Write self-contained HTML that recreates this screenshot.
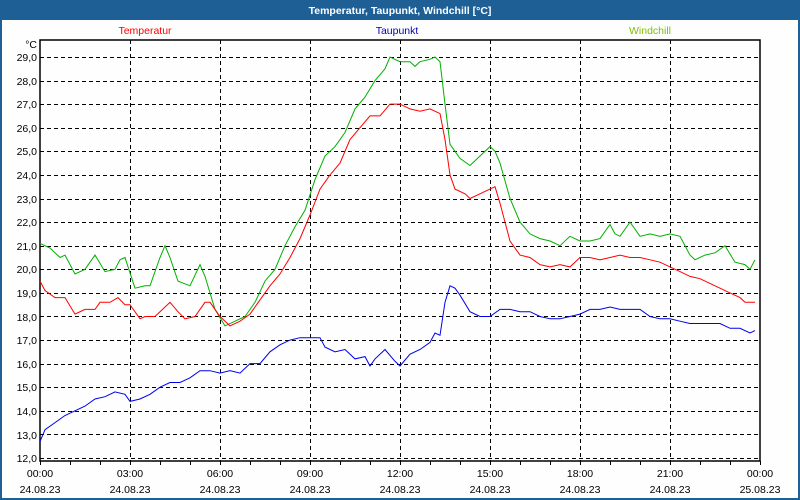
<!DOCTYPE html>
<html><head><meta charset="utf-8"><style>
body{margin:0;width:800px;height:500px;overflow:hidden;background:#fff;font-family:"Liberation Sans",sans-serif}
</style></head><body>
<svg width="800" height="500" xmlns="http://www.w3.org/2000/svg" font-family="Liberation Sans, sans-serif" font-size="10.5" style="display:block">
<rect x="0" y="0" width="800" height="500" fill="#1e5f96"/>
<rect x="2" y="20" width="796" height="478" fill="#fdfefd"/>
<text x="400" y="14" fill="#fff" font-weight="bold" text-anchor="middle">Temperatur, Taupunkt, Windchill [°C]</text>
<text x="145" y="34" fill="#f00" text-anchor="middle">Temperatur</text>
<text x="397" y="34" fill="#0000c0" text-anchor="middle">Taupunkt</text>
<text x="650" y="34" fill="#80c000" text-anchor="middle">Windchill</text>
<g id="grid"></g>
<rect x="40" y="40" width="720" height="421" fill="none" stroke="#000" stroke-width="1.5"/>
<polyline id="g" fill="none" stroke="#00b000" stroke-width="1"/>
<polyline id="r" fill="none" stroke="#f00" stroke-width="1"/>
<polyline id="b" fill="none" stroke="#0000f0" stroke-width="1"/>
<text x="37" y="48" text-anchor="end">°C</text>
<g text-anchor="end">
<text x="37" y="61">29,0</text><text x="37" y="85">28,0</text><text x="37" y="108">27,0</text><text x="37" y="132">26,0</text><text x="37" y="155">25,0</text><text x="37" y="179">24,0</text><text x="37" y="203">23,0</text><text x="37" y="226">22,0</text><text x="37" y="250">21,0</text><text x="37" y="273">20,0</text><text x="37" y="297">19,0</text><text x="37" y="321">18,0</text><text x="37" y="344">17,0</text><text x="37" y="368">16,0</text><text x="37" y="391">15,0</text><text x="37" y="415">14,0</text><text x="37" y="439">13,0</text><text x="37" y="462">12,0</text>
</g>
<g text-anchor="middle" fill="#000">
<text x="40" y="477">00:00</text><text x="40" y="493">24.08.23</text>
<text x="130" y="477">03:00</text><text x="130" y="493">24.08.23</text>
<text x="220" y="477">06:00</text><text x="220" y="493">24.08.23</text>
<text x="310" y="477">09:00</text><text x="310" y="493">24.08.23</text>
<text x="400" y="477">12:00</text><text x="400" y="493">24.08.23</text>
<text x="490" y="477">15:00</text><text x="490" y="493">24.08.23</text>
<text x="580" y="477">18:00</text><text x="580" y="493">24.08.23</text>
<text x="670" y="477">21:00</text><text x="670" y="493">24.08.23</text>
<text x="760" y="477">00:00</text><text x="760" y="493">25.08.23</text>
</g>
</svg>
<script>
var Y=function(v){return 458-(v-12)*23.59;};
var ns="http://www.w3.org/2000/svg",g=document.getElementById("grid");
function ln(x1,y1,x2,y2,d){var l=document.createElementNS(ns,"line");l.setAttribute("x1",x1);l.setAttribute("y1",y1);l.setAttribute("x2",x2);l.setAttribute("y2",y2);l.setAttribute("stroke","#000");l.setAttribute("stroke-width","1");if(d)l.setAttribute("stroke-dasharray","4,3");g.appendChild(l);}
for(var v=12;v<=29;v++){var y=Math.round(Y(v))+0.5;ln(40,y,760,y,1);}
for(var x=130;x<760;x+=90)ln(x+0.5,40,x+0.5,461,1);
for(var x=40;x<=760;x+=30)ln(x+0.5,461,x+0.5,465,0);
function pl(id,a){var s=[];for(var i=0;i<a.length;i+=2)s.push(a[i]+","+Y(a[i+1]).toFixed(1));document.getElementById(id).setAttribute("points",s.join(" "));}
pl("r",[40,19.5,45,19.1,55,18.8,65,18.8,75,18.1,85,18.3,95,18.3,100,18.6,110,18.6,118,18.8,125,18.5,130,18.5,140,17.9,145,18.0,155,18.0,165,18.4,170,18.6,178,18.2,185,17.9,195,18.0,205,18.6,210,18.6,220,18.0,230,17.6,240,17.8,250,18.1,260,18.7,270,19.3,280,19.8,290,20.5,300,21.3,310,22.3,320,23.4,330,24.0,340,24.5,350,25.5,360,26.0,370,26.5,380,26.5,390,27.0,400,27.0,410,26.8,420,26.7,430,26.8,440,26.6,445,25.5,450,24.0,455,23.4,465,23.2,470,23.0,480,23.2,490,23.4,495,23.5,500,22.8,510,21.2,520,20.6,530,20.5,540,20.2,550,20.1,560,20.2,570,20.1,580,20.5,590,20.5,600,20.4,610,20.5,620,20.6,630,20.5,640,20.5,650,20.4,660,20.3,670,20.1,680,19.9,690,19.7,700,19.6,710,19.4,720,19.2,730,19.0,740,18.8,745,18.6,755,18.6]);
pl("g",[40,21.1,50,20.9,60,20.5,65,20.6,75,19.8,85,20.0,95,20.6,105,19.9,115,20.0,120,20.4,125,20.5,135,19.2,145,19.3,150,19.3,160,20.5,165,21.0,170,20.5,178,19.5,190,19.3,200,20.2,205,19.7,215,18.3,225,17.6,235,17.8,245,18.0,255,18.6,265,19.5,275,20.0,285,21.0,295,21.8,305,22.5,315,23.8,325,24.8,335,25.2,345,25.8,355,26.8,365,27.3,375,28.0,385,28.5,390,29.0,400,28.8,410,28.8,415,28.6,420,28.8,430,28.9,435,29.0,440,28.8,445,27.0,450,25.3,460,24.7,470,24.4,480,24.8,490,25.2,495,25.0,500,24.5,510,23.0,520,22.0,530,21.5,540,21.3,550,21.2,560,21.0,570,21.4,580,21.2,590,21.2,600,21.3,610,21.9,615,21.5,620,21.4,630,22.0,640,21.4,650,21.5,660,21.4,670,21.5,680,21.4,690,20.6,695,20.4,705,20.6,715,20.7,725,21.0,735,20.3,745,20.2,750,20.0,755,20.4]);
pl("b",[40,12.7,45,13.2,55,13.5,65,13.8,75,14.0,85,14.2,95,14.5,105,14.6,115,14.8,125,14.7,130,14.4,140,14.5,150,14.7,160,15.0,170,15.2,180,15.2,190,15.4,200,15.7,210,15.7,220,15.6,230,15.7,240,15.6,250,16.0,260,16.0,270,16.5,280,16.8,290,17.0,300,17.1,310,17.1,320,17.1,325,16.7,335,16.5,345,16.6,355,16.2,365,16.3,370,15.9,375,16.2,385,16.6,395,16.1,400,15.9,410,16.4,420,16.6,430,16.9,435,17.3,440,17.2,445,18.6,450,19.3,455,19.2,460,18.9,470,18.2,480,18.0,490,18.0,500,18.3,510,18.3,520,18.2,530,18.2,540,18.0,550,17.9,560,17.9,570,18.0,580,18.1,590,18.3,600,18.3,610,18.4,620,18.3,630,18.3,640,18.3,650,18.0,660,17.9,670,17.9,680,17.8,690,17.7,700,17.7,710,17.7,720,17.7,730,17.5,740,17.5,750,17.3,755,17.4]);
</script>
</body></html>
